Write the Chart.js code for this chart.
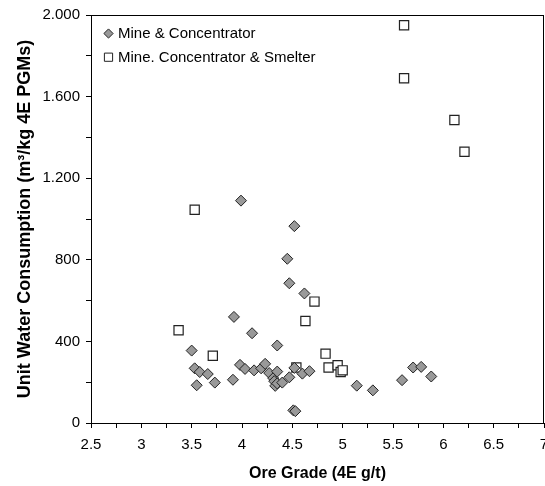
<!DOCTYPE html>
<html>
<head>
<meta charset="utf-8">
<script src="https://cdn.jsdelivr.net/npm/chart.js@4/dist/chart.umd.min.js"></script>
<style>
  html, body { margin: 0; padding: 0; background: #fff; }
  #wrap { width: 545px; height: 486px; position: relative; }
</style>
</head>
<body>
<div id="wrap"><canvas id="waterChart"></canvas></div>
<script>
// Mine & Concentrator (diamonds)
const mineConcGrade = [3.99, 4.52, 4.45, 4.47, 4.62, 3.92, 4.10, 4.35, 3.50, 3.53, 3.58, 3.66, 3.55, 3.73,
    3.91, 3.98, 4.03, 4.12, 4.19, 4.23, 4.27, 4.31, 4.32, 4.35, 4.33, 4.35, 4.40, 4.47, 4.52, 4.60,
    4.67, 4.51, 4.53, 5.14, 5.30, 5.59, 5.70, 5.78, 5.88];
const mineConcWater = [1090, 965, 805, 685, 635, 520, 440, 380, 355, 268, 250, 240, 185, 198,
    212, 285, 265, 258, 268, 290, 245, 220, 205, 252, 182, 194, 198, 224, 270, 242,
    254, 62, 58, 183, 160, 210, 272, 275, 228];

// Mine, Concentrator & Smelter (squares)
const smelterGrade = [3.37, 3.53, 3.71, 4.54, 4.63, 4.72, 4.83, 4.86, 4.95, 4.98, 5.00, 5.61, 5.61, 6.11, 6.21];
const smelterWater = [455, 1045, 330, 272, 500, 595, 340, 272, 283, 250, 258, 1950, 1690, 1485, 1330];

const seriesLabels = ['Mine & Concentrator', 'Mine. Concentrator & Smelter'];
const yTickStep = 200;
const xTickStep = 0.25;

const toPoints = (xs, ys) => xs.map((x, i) => ({ x: x, y: ys[i] }));

const fontFamily = '"Liberation Sans", Arial, Helvetica, sans-serif';

// Box round the plot area
const frame = {
    id: 'frame',
    afterDatasetsDraw(chart) {
        const { ctx, chartArea: a } = chart;
        ctx.save();
        ctx.strokeStyle = '#000';
        ctx.lineWidth = 1;
        ctx.strokeRect(Math.round(a.left) + 0.5, Math.round(a.top) + 0.5,
            Math.round(a.right - a.left) - 1, Math.round(a.bottom - a.top));
        ctx.restore();
    }
};

// Legend sitting inside the plot, top left
const innerLegend = {
    id: 'innerLegend',
    afterDraw(chart) {
        const { ctx, chartArea: a } = chart;
        const rows = [{ radius: 4.6 }, { radius: 5.8 }];
        ctx.save();
        ctx.font = '15px ' + fontFamily;
        ctx.textBaseline = 'middle';
        chart.data.datasets.forEach((ds, i) => {
            const y = a.top + 18.5 + i * 23.7;
            const x = a.left + 17.5;
            ctx.fillStyle = ds.backgroundColor;
            ctx.strokeStyle = ds.borderColor;
            ctx.lineWidth = 1;
            Chart.helpers.drawPoint(ctx, { pointStyle: ds.pointStyle, radius: rows[i].radius, rotation: 0, borderWidth: 1 }, x, y);
            ctx.fillStyle = '#000';
            ctx.fillText(ds.label, x + 9.5, y + 0.5);
        });
        ctx.restore();
    }
};

new Chart(document.getElementById('waterChart').getContext('2d'), {
    type: 'scatter',
    data: {
        datasets: [{
            label: seriesLabels[0],
            data: toPoints(mineConcGrade, mineConcWater),
            pointStyle: 'rectRot',
            pointRadius: 5.5,
            backgroundColor: '#999999',
            borderColor: '#222',
            borderWidth: 1
        }, {
            label: seriesLabels[1],
            data: toPoints(smelterGrade, smelterWater),
            pointStyle: 'rect',
            pointRadius: 6.5,
            backgroundColor: '#ffffff',
            borderColor: '#222',
            borderWidth: 1.2
        }]
    },
    options: {
        responsive: true,
        maintainAspectRatio: false,
        animation: false,
        layout: { autoPadding: false, padding: { top: 15, right: 1, left: 0, bottom: 0 } },
        plugins: {
            tooltip: { enabled: false },
            legend: { display: false }
        },
        scales: {
            x: {
                type: 'linear',
                min: 2.5,
                max: 7,
                ticks: {
                    stepSize: xTickStep,
                    autoSkip: false,
                    maxRotation: 0,
                    padding: 8,
                    color: '#000',
                    font: { family: fontFamily, size: 15 },
                    callback: v => (Math.abs(v * 2 - Math.round(v * 2)) < 1e-6 ? String(v) : '')
                },
                grid: { drawOnChartArea: false, tickLength: 5, color: '#000' },
                border: { color: '#000', width: 1 },
                title: {
                    display: true,
                    text: 'Ore Grade (4E g/t)',
                    color: '#000',
                    font: { family: fontFamily, size: 16, weight: 'bold' },
                    padding: { top: 0, bottom: 3 }
                },
                afterFit(scale) {
                    scale.height = 63;
                    scale.paddingLeft = 0;
                    scale.paddingRight = 0;
                }
            },
            y: {
                min: 0,
                max: 2000,
                ticks: {
                    stepSize: yTickStep,
                    autoSkip: false,
                    padding: 6,
                    color: '#000',
                    font: { family: fontFamily, size: 15 },
                    callback: v => (v % 400 === 0 ? v.toLocaleString('de-DE') : '')
                },
                grid: { drawOnChartArea: false, tickLength: 5, color: '#000' },
                border: { color: '#000', width: 1 },
                title: {
                    display: true,
                    text: 'Unit Water Consumption (m\u00B3/kg 4E PGMs)',
                    color: '#000',
                    font: { family: fontFamily, size: 18, weight: 'bold' },
                    padding: { top: 14, bottom: 0 }
                },
                afterFit(scale) {
                    scale.width = 91;
                    scale.paddingTop = 0;
                    scale.paddingBottom = 0;
                }
            }
        }
    },
    plugins: [frame, innerLegend]
});
</script>
</body>
</html>
